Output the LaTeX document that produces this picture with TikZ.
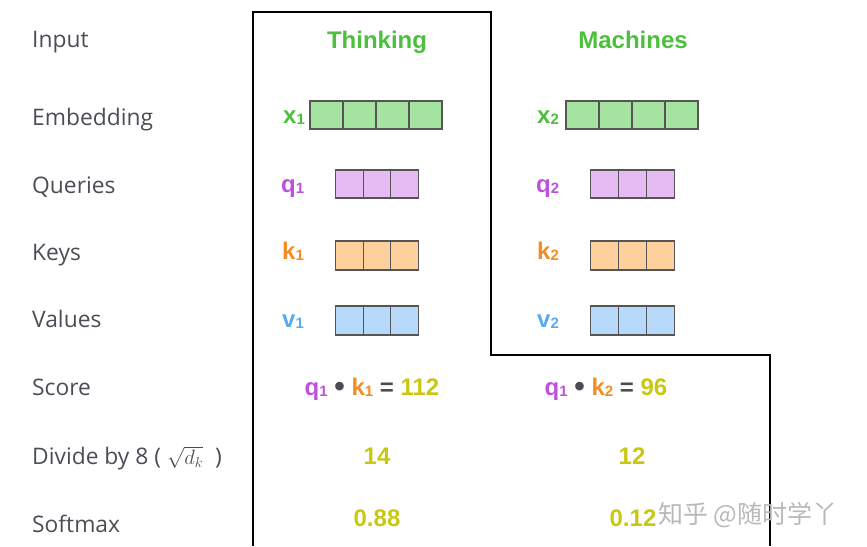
\documentclass[tikz,border=0pt]{standalone}
\usepackage{fontspec}
\setmainfont{Open Sans}
\newfontfamily\hv{Liberation Sans}
\newfontfamily\cjk{Noto Sans CJK SC}
\definecolor{labgray}{RGB}{74,78,84}
\definecolor{tgreen}{RGB}{76,192,60}
\definecolor{tpurple}{RGB}{190,80,220}
\definecolor{torange}{RGB}{245,140,35}
\definecolor{tblue}{RGB}{90,170,240}
\definecolor{tolive}{RGB}{200,200,20}
\definecolor{fgreen}{RGB}{164,228,160}
\definecolor{fpurple}{RGB}{230,186,242}
\definecolor{forange}{RGB}{253,208,156}
\definecolor{fblue}{RGB}{183,218,252}
\definecolor{cellline}{RGB}{85,85,85}
\definecolor{wmgray}{RGB}{185,185,185}
\newcommand{\idx}[1]{\raisebox{-1.5pt}{\fontsize{15}{15}\selectfont #1}}
\newcommand{\dotop}{\textcolor{labgray}{\fontsize{30}{30}\selectfont\raisebox{-1pt}{\textbullet}}}

\begin{document}
\begin{tikzpicture}[x=1pt,y=-1pt,
    rowlab/.style={anchor=base west,inner sep=0pt,text=labgray,font=\fontsize{22.8}{23}\selectfont},
    word/.style={anchor=base,inner sep=0pt,font=\hv\bfseries\fontsize{24}{24}\selectfont},
    vec/.style={anchor=base west,inner sep=0pt,font=\hv\bfseries\fontsize{24}{24}\selectfont},
    cell/.style={draw=cellline,line width=1.1pt},
    outline/.style={draw=black,line width=2pt}]
   \useasboundingbox (0,0) rectangle (867,546);
   % row labels
   \node[rowlab] (lin)  at (32, 47) {Input};
   \node[rowlab] (lemb) at (32,125) {Embedding};
   \node[rowlab] (lq)   at (32,193) {Queries};
   \node[rowlab] (lk)   at (32,260) {Keys};
   \node[rowlab] (lv)   at (32,327) {Values};
   \node[rowlab] (lsc)  at (32,395) {Score};
   \node[rowlab] (ldiv) at (32,464) {Divide by 8 ( {\fontsize{20}{20}\selectfont$\sqrt{d_k}$}\ \ )};
   \node[rowlab] (lsm)  at (32,532) {Softmax};
   % outline
   \draw[outline] (253,546) -- (253, 12) -- (491, 12) -- (491,355) -- (770,355) -- (770,546);
   % words
   \node[word,text=tgreen] (think) at (377,48) {Thinking};
   \node[word,text=tgreen] (mach)  at (633,48) {Machines};
   % embeddings
   \node[vec,text=tgreen]  (x1) at (283,123) {x\idx{1}};
   \node[vec,text=tgreen]  (x2) at (537,123) {x\idx{2}};
   \draw[cell,fill=fgreen] (310,101) rectangle (343,129);
   \draw[cell,fill=fgreen] (343,101) rectangle (376,129);
   \draw[cell,fill=fgreen] (376,101) rectangle (409,129);
   \draw[cell,fill=fgreen] (409,101) rectangle (442,129);
   \draw[cell,fill=fgreen] (566,101) rectangle (599,129);
   \draw[cell,fill=fgreen] (599,101) rectangle (632,129);
   \draw[cell,fill=fgreen] (632,101) rectangle (665,129);
   \draw[cell,fill=fgreen] (665,101) rectangle (698,129);
   % queries
   \node[vec,text=tpurple] (q1) at (281,192) {q\idx{1}};
   \node[vec,text=tpurple] (q2) at (536,192) {q\idx{2}};
   \draw[cell,fill=fpurple] (335.3,170) rectangle (363.1,198);
   \draw[cell,fill=fpurple] (363.1,170) rectangle (390.9,198);
   \draw[cell,fill=fpurple] (390.9,170) rectangle (418.7,198);
   \draw[cell,fill=fpurple] (590.8,170) rectangle (618.6,198);
   \draw[cell,fill=fpurple] (618.6,170) rectangle (646.4,198);
   \draw[cell,fill=fpurple] (646.4,170) rectangle (674.2,198);
   % keys
   \node[vec,text=torange] (k1) at (282,259) {k\idx{1}};
   \node[vec,text=torange] (k2) at (537,259) {k\idx{2}};
   \draw[cell,fill=forange] (335.3,241) rectangle (363.1,270);
   \draw[cell,fill=forange] (363.1,241) rectangle (390.9,270);
   \draw[cell,fill=forange] (390.9,241) rectangle (418.7,270);
   \draw[cell,fill=forange] (590.8,241) rectangle (618.6,270);
   \draw[cell,fill=forange] (618.6,241) rectangle (646.4,270);
   \draw[cell,fill=forange] (646.4,241) rectangle (674.2,270);
   % values
   \node[vec,text=tblue]   (v1) at (282,327) {v\idx{1}};
   \node[vec,text=tblue]   (v2) at (537,327) {v\idx{2}};
   \draw[cell,fill=fblue] (335.3,306) rectangle (363.1,335);
   \draw[cell,fill=fblue] (363.1,306) rectangle (390.9,335);
   \draw[cell,fill=fblue] (390.9,306) rectangle (418.7,335);
   \draw[cell,fill=fblue] (590.8,306) rectangle (618.6,335);
   \draw[cell,fill=fblue] (618.6,306) rectangle (646.4,335);
   \draw[cell,fill=fblue] (646.4,306) rectangle (674.2,335);
   % scores
   \node[word] (sc1) at (372,395) {\textcolor{tpurple}{q\idx{1}} \dotop{} \textcolor{torange}{k\idx{1}} \textcolor{labgray}{=} \textcolor{tolive}{112}};
   \node[word] (sc2) at (606,395) {\textcolor{tpurple}{q\idx{1}} \dotop{} \textcolor{torange}{k\idx{2}} \textcolor{labgray}{=} \textcolor{tolive}{96}};
   \node[word,text=tolive] (d1) at (377,464) {14};
   \node[word,text=tolive] (d2) at (632,464) {12};
   \node[word,text=tolive] (s1) at (377,526) {0.88};
   \node[word,text=tolive] (s2) at (633,526) {0.12};
   % watermark
   \node[anchor=west,text=wmgray,font=\cjk\fontsize{25}{25}\selectfont,inner sep=0pt] (wm) at (658,515) {知乎 @随时学丫};
\end{tikzpicture}
\end{document}
